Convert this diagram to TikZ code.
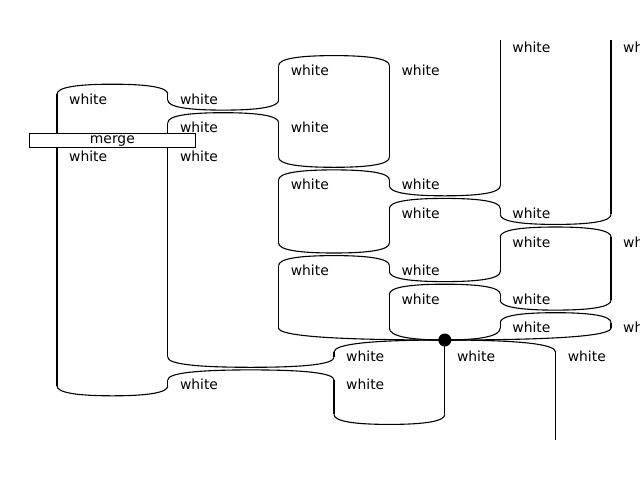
\documentclass[tikz,border=0pt]{standalone}
\usepackage{fontspec}
\setmainfont{DejaVu Sans}
\tikzset{
 wire/.style={line width=1.1pt, black},
 lab/.style={anchor=base west, inner sep=0pt, font=\fontsize{13.9}{16}\selectfont},
 boxst/.style={draw, fill=white, line width=1pt, inner sep=0pt, minimum width=166pt, minimum height=14pt, text height=8pt, text depth=1.4pt, font=\fontsize{13.9}{16}\selectfont},
 dotst/.style={circle, fill=black, inner sep=0pt, minimum size=13pt},
}
\newcommand\capw[3]{\draw[wire] (#1,{#3+10}) .. controls (#1,{#3+10/3}) and ({#1+(#2-#1)/6},#3) .. ({(#1+#2)/2},#3) .. controls ({#2-(#2-#1)/6},#3) and (#2,{#3+10/3}) .. (#2,{#3+10});}
\newcommand\cupw[3]{\draw[wire] (#1,{#3-10}) .. controls (#1,{#3-10/3}) and ({#1+(#2-#1)/6},#3) .. ({(#1+#2)/2},#3) .. controls ({#2-(#2-#1)/6},#3) and (#2,{#3-10/3}) .. (#2,{#3-10});}
\newcommand\legw[2]{\draw[wire] (spider.center) .. controls ({444.8+2/3*(#1-444.8)},340) and (#1,{#2+2/3*(340-#2)}) .. (#1,#2);}
\newcommand\vw[3]{\draw[wire] (#1,#2) -- (#1,#3);}
\begin{document}
\begin{tikzpicture}[x=1pt,y=-1pt]
\useasboundingbox (0,0) rectangle (640,480);
\clip (0,0) rectangle (640,480);
\node[dotst] (spider) at (444.8,340) {};
% caps
\capw{57}{167.8}{84.2}
\capw{278.6}{389.4}{55.6}
\capw{167.8}{278.6}{112.7}
\capw{278.6}{389.4}{169.9}
\capw{389.4}{500.2}{198.4}
\capw{278.6}{389.4}{255.6}
\capw{500.2}{611}{227}
\capw{389.4}{500.2}{284.2}
\capw{500.2}{611}{312.7}
\capw{167.8}{334}{369.9}
% cups
\cupw{167.8}{278.6}{110.1}
\cupw{278.6}{389.4}{167.3}
\cupw{389.4}{500.2}{195.8}
\cupw{278.6}{389.4}{253}
\cupw{389.4}{500.2}{281.6}
\cupw{500.2}{611}{224.4}
\cupw{500.2}{611}{310.1}
\cupw{167.8}{334}{367.3}
\cupw{57}{167.8}{395.8}
\cupw{334}{444.8}{424.4}
% spider legs
\legw{278.6}{328}
\legw{389.4}{328}
\legw{500.2}{328}
\legw{611}{328}
\legw{334}{352}
\legw{555.6}{352}
% verticals
\vw{57}{94.2}{385.8}
\vw{167.8}{94.2}{100.1}
\vw{167.8}{122.7}{357.3}
\vw{167.8}{379.9}{385.8}
\vw{278.6}{65.6}{100.1}
\vw{278.6}{122.7}{157.3}
\vw{278.6}{179.9}{243}
\vw{278.6}{265.6}{328}
\vw{389.4}{65.6}{157.3}
\vw{389.4}{179.9}{185.8}
\vw{389.4}{208.4}{243}
\vw{389.4}{265.6}{271.6}
\vw{389.4}{294.2}{328}
\vw{500.2}{40}{185.8}
\vw{500.2}{208.4}{214.4}
\vw{500.2}{237}{271.6}
\vw{500.2}{294.2}{300.1}
\vw{500.2}{322.7}{328}
\vw{611}{40}{214.4}
\vw{611}{237}{300.1}
\vw{611}{322.7}{328}
\vw{334}{352}{357.3}
\vw{334}{379.9}{414.4}
\draw[wire] (spider.center) -- (444.8,414.4);
\vw{555.6}{352}{440}
% merge box
\node[boxst] (merge) at (112.4,140) {merge};
% labels
\node[lab] (t01) at (512.2,52) {white};
\node[lab] (t02) at (623,52) {white};
\node[lab] (t11) at (290.6,75.6) {white};
\node[lab] (t12) at (401.4,75.6) {white};
\node[lab] (t21) at (69,104.1) {white};
\node[lab] (t22) at (179.8,104.1) {white};
\node[lab] (t31) at (179.8,132.5) {white};
\node[lab] (t32) at (290.6,132.5) {white};
\node[lab] (t41) at (69,161.3) {white};
\node[lab] (t42) at (179.8,161.3) {white};
\node[lab] (t51) at (290.6,189.9) {white};
\node[lab] (t52) at (401.4,189.9) {white};
\node[lab] (t61) at (401.4,218.4) {white};
\node[lab] (t62) at (512.2,218.4) {white};
\node[lab] (t71) at (512.2,247) {white};
\node[lab] (t72) at (623,247) {white};
\node[lab] (t81) at (290.6,275.6) {white};
\node[lab] (t82) at (401.4,275.6) {white};
\node[lab] (t91) at (401.4,304.1) {white};
\node[lab] (t92) at (512.2,304.1) {white};
\node[lab] (ta1) at (512.2,332.7) {white};
\node[lab] (ta2) at (623,332.7) {white};
\node[lab] (tb1) at (346,361.3) {white};
\node[lab] (tb2) at (456.8,361.3) {white};
\node[lab] (tb3) at (567.6,361.3) {white};
\node[lab] (tc1) at (179.8,389.9) {white};
\node[lab] (tc2) at (346,389.9) {white};
\end{tikzpicture}
\end{document}
